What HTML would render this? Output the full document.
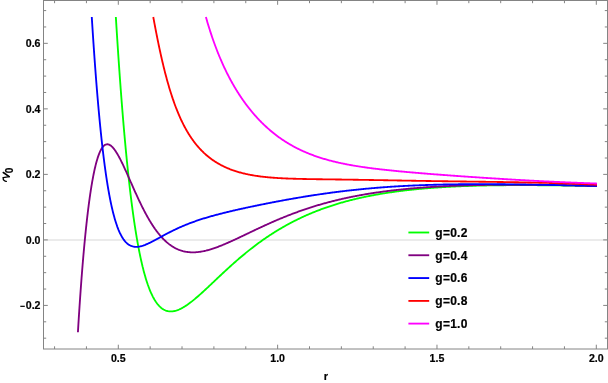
<!DOCTYPE html>
<html><head><meta charset="utf-8"><style>
html,body{margin:0;padding:0;background:#fff;}
svg{display:block;will-change:transform;font-family:"Liberation Sans",sans-serif;font-weight:bold;font-size:10.6px;fill:#000;}
text{stroke:#000;stroke-width:0.2px;}
</style></head><body>
<svg width="608" height="383" viewBox="0 0 608 383">
<rect width="608" height="383" fill="#fff"/>
<line x1="43.5" y1="240" x2="607.5" y2="240" stroke="#ebebeb" stroke-width="2"/>
<g>
<path d="M115.84,17.02 L115.90,17.85 L115.95,18.67 L116.00,19.50 L116.05,20.32 L116.10,21.14 L116.15,21.96 L116.20,22.77 L116.25,23.59 L116.30,24.41 L116.35,25.22 L116.40,26.03 L116.45,26.84 L116.51,27.65 L116.56,28.45 L116.61,29.26 L116.66,30.06 L116.71,30.86 L116.76,31.66 L116.81,32.46 L116.86,33.30 L116.92,34.13 L116.97,34.96 L117.02,35.79 L117.08,36.62 L117.13,37.44 L117.18,38.27 L117.24,39.09 L117.29,39.91 L117.34,40.73 L117.40,41.55 L117.45,42.37 L117.50,43.18 L117.56,43.99 L117.61,44.80 L117.66,45.61 L117.72,46.42 L117.77,47.22 L117.82,48.03 L117.88,48.83 L117.93,49.63 L117.98,50.43 L118.04,51.26 L118.09,52.09 L118.15,52.92 L118.20,53.75 L118.26,54.57 L118.32,55.40 L118.37,56.22 L118.43,57.04 L118.48,57.86 L118.54,58.67 L118.59,59.49 L118.65,60.30 L118.71,61.11 L118.76,61.92 L118.82,62.72 L118.87,63.53 L118.93,64.33 L118.98,65.13 L119.04,65.93 L119.10,66.76 L119.16,67.59 L119.21,68.42 L119.27,69.25 L119.33,70.07 L119.39,70.89 L119.45,71.71 L119.50,72.53 L119.56,73.35 L119.62,74.16 L119.68,74.97 L119.74,75.78 L119.80,76.59 L119.85,77.40 L119.91,78.20 L119.97,79.00 L120.03,79.80 L120.09,80.63 L120.15,81.46 L120.21,82.29 L120.27,83.11 L120.33,83.93 L120.39,84.75 L120.45,85.57 L120.51,86.39 L120.57,87.20 L120.63,88.01 L120.69,88.82 L120.75,89.63 L120.81,90.43 L120.88,91.24 L120.94,92.04 L121.00,92.84 L121.06,93.66 L121.12,94.49 L121.18,95.31 L121.25,96.14 L121.31,96.95 L121.37,97.77 L121.44,98.59 L121.50,99.40 L121.56,100.21 L121.63,101.02 L121.69,101.82 L121.75,102.62 L121.81,103.43 L121.88,104.22 L121.94,105.05 L122.01,105.88 L122.07,106.70 L122.14,107.52 L122.20,108.33 L122.27,109.15 L122.33,109.96 L122.40,110.77 L122.47,111.58 L122.53,112.38 L122.60,113.19 L122.66,113.99 L122.73,114.79 L122.79,115.61 L122.86,116.43 L122.93,117.25 L123.00,118.07 L123.07,118.89 L123.13,119.70 L123.20,120.51 L123.27,121.31 L123.34,122.12 L123.40,122.92 L123.47,123.72 L123.54,124.55 L123.61,125.37 L123.68,126.19 L123.75,127.01 L123.82,127.82 L123.89,128.63 L123.96,129.44 L124.03,130.25 L124.10,131.05 L124.17,131.85 L124.25,132.65 L124.32,133.48 L124.39,134.30 L124.46,135.11 L124.54,135.93 L124.61,136.74 L124.68,137.55 L124.75,138.36 L124.83,139.16 L124.90,139.96 L124.97,140.76 L125.05,141.58 L125.12,142.40 L125.20,143.21 L125.27,144.03 L125.35,144.84 L125.42,145.64 L125.50,146.45 L125.57,147.25 L125.65,148.05 L125.72,148.87 L125.80,149.69 L125.88,150.50 L125.96,151.31 L126.03,152.12 L126.11,152.93 L126.19,153.73 L126.27,154.53 L126.34,155.33 L126.42,156.14 L126.50,156.96 L126.58,157.77 L126.66,158.58 L126.74,159.38 L126.82,160.19 L126.90,160.98 L126.99,161.80 L127.07,162.62 L127.15,163.43 L127.23,164.24 L127.31,165.05 L127.40,165.85 L127.48,166.65 L127.56,167.45 L127.65,168.27 L127.73,169.08 L127.82,169.89 L127.90,170.69 L127.99,171.50 L128.07,172.30 L128.15,173.09 L128.24,173.91 L128.33,174.72 L128.42,175.53 L128.50,176.33 L128.59,177.13 L128.68,177.93 L128.77,178.74 L128.86,179.55 L128.95,180.36 L129.04,181.17 L129.13,181.97 L129.22,182.76 L129.31,183.58 L129.40,184.39 L129.49,185.20 L129.58,186.00 L129.68,186.80 L129.77,187.59 L129.86,188.40 L129.96,189.21 L130.05,190.02 L130.14,190.82 L130.24,191.61 L130.34,192.43 L130.43,193.23 L130.53,194.04 L130.63,194.84 L130.72,195.64 L130.82,196.45 L130.92,197.26 L131.02,198.06 L131.12,198.86 L131.22,199.65 L131.32,200.46 L131.42,201.27 L131.52,202.07 L131.63,202.87 L131.73,203.68 L131.83,204.48 L131.94,205.29 L132.04,206.08 L132.15,206.89 L132.26,207.70 L132.36,208.50 L132.47,209.30 L132.58,210.09 L132.68,210.90 L132.79,211.70 L132.90,212.50 L133.01,213.31 L133.13,214.11 L133.24,214.91 L133.35,215.71 L133.46,216.51 L133.58,217.32 L133.69,218.11 L133.81,218.92 L133.92,219.72 L134.04,220.52 L134.15,221.32 L134.27,222.12 L134.39,222.92 L134.51,223.71 L134.63,224.52 L134.75,225.32 L134.87,226.11 L135.00,226.91 L135.12,227.71 L135.24,228.50 L135.37,229.31 L135.50,230.10 L135.62,230.89 L135.75,231.69 L135.88,232.49 L136.01,233.29 L136.14,234.09 L136.27,234.88 L136.40,235.68 L136.54,236.47 L136.67,237.28 L136.81,238.07 L136.94,238.86 L137.08,239.66 L137.22,240.45 L137.36,241.25 L137.50,242.04 L137.64,242.84 L137.79,243.63 L137.93,244.42 L138.08,245.22 L138.22,246.01 L138.37,246.80 L138.52,247.60 L138.67,248.39 L138.82,249.18 L138.98,249.97 L139.13,250.76 L139.29,251.55 L139.44,252.34 L139.60,253.13 L139.76,253.92 L139.93,254.71 L140.09,255.50 L140.25,256.29 L140.42,257.08 L140.59,257.87 L140.76,258.66 L140.93,259.44 L141.11,260.23 L141.28,261.01 L141.46,261.80 L141.64,262.58 L141.82,263.37 L142.00,264.15 L142.19,264.94 L142.38,265.72 L142.56,266.50 L142.76,267.28 L142.95,268.06 L143.15,268.84 L143.34,269.62 L143.54,270.40 L143.75,271.18 L143.95,271.96 L144.16,272.73 L144.37,273.50 L144.59,274.28 L144.81,275.06 L145.03,275.83 L145.25,276.61 L145.48,277.38 L145.71,278.15 L145.94,278.92 L146.18,279.69 L146.42,280.46 L146.66,281.22 L146.91,281.99 L147.16,282.75 L147.42,283.51 L147.67,284.27 L147.94,285.03 L148.21,285.78 L148.48,286.54 L148.76,287.29 L149.04,288.04 L149.33,288.79 L149.63,289.54 L149.93,290.28 L150.24,291.03 L150.55,291.77 L150.87,292.50 L151.19,293.24 L151.53,293.97 L151.87,294.69 L152.22,295.41 L152.58,296.13 L152.94,296.85 L153.32,297.56 L153.70,298.26 L154.10,298.96 L154.50,299.65 L154.92,300.33 L155.35,301.01 L155.79,301.68 L156.25,302.34 L156.71,302.99 L157.19,303.63 L157.69,304.26 L158.21,304.87 L158.74,305.47 L159.29,306.06 L159.85,306.63 L160.44,307.17 L161.04,307.70 L161.67,308.20 L162.32,308.67 L162.98,309.11 L163.67,309.52 L164.38,309.90 L165.11,310.24 L165.85,310.54 L166.61,310.80 L167.38,311.01 L168.17,311.18 L168.96,311.30 L169.75,311.38 L170.56,311.41 L171.36,311.41 L172.16,311.36 L172.95,311.27 L173.74,311.15 L174.53,311.00 L175.31,310.81 L176.08,310.60 L176.85,310.36 L177.60,310.09 L178.35,309.81 L179.09,309.50 L179.82,309.17 L180.55,308.83 L181.26,308.47 L181.97,308.10 L182.67,307.72 L183.37,307.32 L184.06,306.91 L184.74,306.49 L185.42,306.06 L186.09,305.62 L186.76,305.17 L187.42,304.72 L188.07,304.26 L188.72,303.79 L189.37,303.32 L190.01,302.84 L190.65,302.36 L191.29,301.87 L191.92,301.37 L192.54,300.87 L193.17,300.37 L193.79,299.87 L194.41,299.36 L195.03,298.84 L195.64,298.33 L196.25,297.81 L196.86,297.29 L197.46,296.77 L198.07,296.24 L198.67,295.71 L199.27,295.18 L199.87,294.65 L200.47,294.11 L201.06,293.58 L201.66,293.04 L202.25,292.50 L202.85,291.96 L203.44,291.42 L204.03,290.87 L204.62,290.33 L205.20,289.79 L205.79,289.24 L206.38,288.69 L206.96,288.15 L207.55,287.60 L208.13,287.05 L208.72,286.50 L209.30,285.95 L209.88,285.40 L210.47,284.85 L211.05,284.30 L211.63,283.75 L212.21,283.20 L212.80,282.65 L213.38,282.10 L213.96,281.55 L214.54,281.00 L215.12,280.45 L215.70,279.90 L216.28,279.35 L216.87,278.79 L217.45,278.24 L218.03,277.69 L218.62,277.14 L219.20,276.59 L219.78,276.04 L220.37,275.49 L220.95,274.95 L221.54,274.40 L222.12,273.85 L222.71,273.30 L223.29,272.75 L223.88,272.21 L224.47,271.66 L225.06,271.12 L225.64,270.57 L226.23,270.03 L226.82,269.49 L227.41,268.95 L228.00,268.41 L228.60,267.86 L229.19,267.33 L229.78,266.79 L230.38,266.25 L230.97,265.71 L231.57,265.18 L232.17,264.64 L232.77,264.11 L233.36,263.57 L233.96,263.04 L234.57,262.51 L235.17,261.98 L235.77,261.45 L236.37,260.92 L236.98,260.40 L237.58,259.87 L238.19,259.35 L238.80,258.82 L239.41,258.30 L240.02,257.78 L240.63,257.27 L241.24,256.75 L241.85,256.23 L242.47,255.72 L243.08,255.20 L243.70,254.69 L244.32,254.18 L244.94,253.67 L245.56,253.16 L246.18,252.65 L246.80,252.15 L247.43,251.64 L248.05,251.14 L248.68,250.64 L249.30,250.14 L249.93,249.64 L250.56,249.15 L251.19,248.65 L251.83,248.16 L252.46,247.67 L253.09,247.18 L253.73,246.69 L254.37,246.21 L255.01,245.72 L255.65,245.24 L256.29,244.76 L256.93,244.28 L257.57,243.81 L258.22,243.33 L258.87,242.86 L259.52,242.38 L260.16,241.91 L260.82,241.45 L261.47,240.98 L262.12,240.52 L262.77,240.05 L263.43,239.59 L264.09,239.13 L264.75,238.68 L265.41,238.22 L266.07,237.77 L266.73,237.32 L267.40,236.87 L268.06,236.42 L268.73,235.98 L269.40,235.54 L270.07,235.10 L270.74,234.66 L271.41,234.22 L272.08,233.79 L272.76,233.35 L273.43,232.92 L274.11,232.49 L274.79,232.07 L275.47,231.64 L276.15,231.22 L276.83,230.80 L277.52,230.39 L278.20,229.97 L278.89,229.56 L279.58,229.15 L280.27,228.74 L280.96,228.33 L281.65,227.93 L282.34,227.52 L283.04,227.12 L283.73,226.73 L284.43,226.33 L285.13,225.94 L285.83,225.55 L286.53,225.16 L287.23,224.77 L287.93,224.39 L288.63,224.01 L289.34,223.63 L290.05,223.25 L290.76,222.87 L291.47,222.50 L292.18,222.13 L292.89,221.76 L293.60,221.40 L294.32,221.03 L295.03,220.67 L295.75,220.31 L296.46,219.96 L297.18,219.60 L297.90,219.25 L298.62,218.90 L299.34,218.56 L300.07,218.21 L300.79,217.87 L301.52,217.53 L302.25,217.19 L302.97,216.85 L303.70,216.52 L304.43,216.19 L305.16,215.86 L305.89,215.53 L306.63,215.21 L307.36,214.89 L308.10,214.57 L308.83,214.25 L309.57,213.94 L310.31,213.62 L311.05,213.31 L311.79,213.00 L312.53,212.70 L313.27,212.40 L314.01,212.09 L314.75,211.80 L315.50,211.50 L316.24,211.20 L316.99,210.91 L317.74,210.62 L318.48,210.34 L319.23,210.05 L319.98,209.77 L320.73,209.49 L321.48,209.21 L322.24,208.93 L322.99,208.66 L323.74,208.39 L324.50,208.12 L325.25,207.85 L326.01,207.59 L326.77,207.32 L327.52,207.06 L328.28,206.80 L329.04,206.55 L329.80,206.29 L330.56,206.04 L331.32,205.79 L332.09,205.54 L332.85,205.30 L333.61,205.05 L334.38,204.81 L335.14,204.57 L335.91,204.34 L336.67,204.10 L337.44,203.87 L338.21,203.64 L338.97,203.41 L339.74,203.18 L340.51,202.96 L341.28,202.73 L342.05,202.51 L342.82,202.30 L343.59,202.08 L344.36,201.86 L345.14,201.65 L345.91,201.44 L346.68,201.23 L347.46,201.02 L348.23,200.82 L349.01,200.62 L349.78,200.42 L350.56,200.22 L351.34,200.02 L352.11,199.82 L352.89,199.63 L353.67,199.44 L354.45,199.25 L355.23,199.06 L356.01,198.87 L356.79,198.69 L357.57,198.51 L358.35,198.33 L359.13,198.15 L359.91,197.97 L360.69,197.80 L361.47,197.62 L362.26,197.45 L363.04,197.28 L363.82,197.11 L364.61,196.95 L365.39,196.78 L366.17,196.62 L366.96,196.46 L367.74,196.30 L368.53,196.14 L369.31,195.98 L370.10,195.83 L370.89,195.67 L371.68,195.52 L372.46,195.37 L373.25,195.22 L374.04,195.08 L374.82,194.93 L375.61,194.79 L376.40,194.64 L377.19,194.50 L377.98,194.36 L378.77,194.23 L379.56,194.09 L380.35,193.95 L381.14,193.82 L381.93,193.69 L382.72,193.56 L383.51,193.43 L384.30,193.30 L385.09,193.18 L385.88,193.05 L386.68,192.93 L387.47,192.81 L388.26,192.69 L389.05,192.57 L389.84,192.45 L390.63,192.33 L391.43,192.22 L392.22,192.10 L393.02,191.99 L393.81,191.88 L394.60,191.77 L395.40,191.66 L396.19,191.55 L396.99,191.45 L397.78,191.34 L398.57,191.24 L399.37,191.14 L400.16,191.03 L400.96,190.93 L401.75,190.84 L402.54,190.74 L403.34,190.64 L404.14,190.55 L404.93,190.45 L405.73,190.36 L406.53,190.27 L407.32,190.18 L408.12,190.09 L408.92,190.00 L409.71,189.91 L410.51,189.82 L411.31,189.74 L412.10,189.66 L412.90,189.57 L413.70,189.49 L414.49,189.41 L415.29,189.33 L416.09,189.25 L416.88,189.17 L417.68,189.10 L418.47,189.02 L419.27,188.95 L420.07,188.87 L420.87,188.80 L421.67,188.73 L422.47,188.66 L423.27,188.59 L424.07,188.52 L424.87,188.45 L425.66,188.38 L426.46,188.32 L427.26,188.25 L428.06,188.19 L428.86,188.12 L429.66,188.06 L430.46,188.00 L431.26,187.94 L432.06,187.88 L432.86,187.82 L433.65,187.76 L434.45,187.70 L435.25,187.65 L436.05,187.59 L436.85,187.54 L437.65,187.48 L438.45,187.43 L439.25,187.38 L440.05,187.32 L440.84,187.27 L441.64,187.22 L442.44,187.17 L443.24,187.13 L444.04,187.08 L444.84,187.03 L445.64,186.98 L446.44,186.94 L447.24,186.89 L448.03,186.85 L448.83,186.81 L449.63,186.76 L450.43,186.72 L451.23,186.68 L452.03,186.64 L452.84,186.60 L453.64,186.56 L454.44,186.52 L455.24,186.48 L456.04,186.45 L456.84,186.41 L457.64,186.37 L458.44,186.34 L459.25,186.30 L460.05,186.27 L460.85,186.23 L461.65,186.20 L462.45,186.17 L463.25,186.14 L464.05,186.11 L464.86,186.08 L465.66,186.05 L466.46,186.02 L467.26,185.99 L468.06,185.96 L468.86,185.93 L469.66,185.91 L470.46,185.88 L471.27,185.85 L472.07,185.83 L472.87,185.80 L473.67,185.78 L474.47,185.75 L475.27,185.73 L476.07,185.71 L476.88,185.69 L477.68,185.66 L478.48,185.64 L479.28,185.62 L480.08,185.60 L480.88,185.58 L481.68,185.56 L482.48,185.55 L483.29,185.53 L484.09,185.51 L484.89,185.49 L485.69,185.48 L486.49,185.46 L487.29,185.44 L488.09,185.43 L488.90,185.41 L489.70,185.40 L490.50,185.38 L491.30,185.37 L492.10,185.36 L492.90,185.34 L493.70,185.33 L494.50,185.32 L495.31,185.31 L496.11,185.30 L496.91,185.29 L497.71,185.28 L498.51,185.27 L499.31,185.26 L500.11,185.25 L500.92,185.24 L501.72,185.23 L502.52,185.22 L503.32,185.22 L504.12,185.21 L504.92,185.20 L505.72,185.20 L506.52,185.19 L507.33,185.18 L508.13,185.18 L508.93,185.17 L509.73,185.17 L510.53,185.16 L511.33,185.16 L512.13,185.16 L512.94,185.15 L513.74,185.15 L514.54,185.15 L515.34,185.15 L516.14,185.14 L516.94,185.14 L517.74,185.14 L518.54,185.14 L519.35,185.14 L520.15,185.14 L520.95,185.14 L521.75,185.14 L522.55,185.14 L523.35,185.14 L524.15,185.14 L524.96,185.14 L525.76,185.14 L526.56,185.15 L527.36,185.15 L528.16,185.15 L528.96,185.15 L529.76,185.16 L530.56,185.16 L531.37,185.16 L532.17,185.17 L532.97,185.17 L533.77,185.18 L534.57,185.18 L535.37,185.19 L536.17,185.19 L536.98,185.20 L537.78,185.20 L538.58,185.21 L539.38,185.22 L540.18,185.22 L540.98,185.23 L541.78,185.24 L542.58,185.24 L543.39,185.25 L544.19,185.26 L544.99,185.27 L545.79,185.27 L546.59,185.28 L547.39,185.29 L548.19,185.30 L549.00,185.31 L549.80,185.32 L550.60,185.33 L551.40,185.34 L552.20,185.35 L553.00,185.36 L553.80,185.37 L554.60,185.38 L555.41,185.39 L556.21,185.40 L557.01,185.41 L557.81,185.42 L558.61,185.43 L559.41,185.44 L560.21,185.45 L561.02,185.47 L561.82,185.48 L562.62,185.49 L563.42,185.50 L564.22,185.52 L565.02,185.53 L565.82,185.54 L566.62,185.56 L567.43,185.57 L568.23,185.58 L569.03,185.60 L569.83,185.61 L570.63,185.62 L571.43,185.64 L572.23,185.65 L573.04,185.67 L573.84,185.68 L574.64,185.70 L575.44,185.71 L576.24,185.73 L577.04,185.74 L577.84,185.76 L578.64,185.77 L579.45,185.79 L580.25,185.81 L581.05,185.82 L581.85,185.84 L582.65,185.85 L583.45,185.87 L584.25,185.89 L585.06,185.90 L585.86,185.92 L586.66,185.94 L587.46,185.96 L588.26,185.97 L589.06,185.99 L589.86,186.01 L590.66,186.03 L591.47,186.04 L592.27,186.06 L593.07,186.08 L593.87,186.10 L594.67,186.12 L595.47,186.13 L596.27,186.15 L597.00,186.17" stroke="#00ff00" stroke-width="1.85" fill="none" stroke-linejoin="round" stroke-linecap="butt"/>
<path d="M77.92,332.29 L77.97,331.45 L78.02,330.61 L78.07,329.78 L78.12,328.95 L78.17,328.12 L78.22,327.30 L78.26,326.47 L78.31,325.66 L78.36,324.84 L78.41,324.03 L78.46,323.22 L78.51,322.41 L78.56,321.61 L78.61,320.81 L78.66,319.97 L78.72,319.13 L78.77,318.30 L78.82,317.47 L78.87,316.64 L78.93,315.82 L78.98,315.00 L79.03,314.18 L79.08,313.37 L79.13,312.56 L79.19,311.75 L79.24,310.94 L79.29,310.14 L79.34,309.34 L79.40,308.51 L79.45,307.67 L79.51,306.85 L79.56,306.02 L79.62,305.20 L79.67,304.38 L79.73,303.56 L79.78,302.75 L79.84,301.94 L79.89,301.13 L79.95,300.33 L80.00,299.53 L80.06,298.70 L80.12,297.86 L80.17,297.04 L80.23,296.21 L80.29,295.39 L80.35,294.57 L80.40,293.76 L80.46,292.95 L80.52,292.14 L80.58,291.34 L80.63,290.53 L80.69,289.74 L80.75,288.91 L80.81,288.08 L80.87,287.25 L80.93,286.43 L80.99,285.62 L81.05,284.80 L81.11,283.99 L81.17,283.19 L81.23,282.38 L81.29,281.58 L81.35,280.75 L81.42,279.93 L81.48,279.10 L81.54,278.28 L81.60,277.47 L81.67,276.65 L81.73,275.85 L81.79,275.04 L81.86,274.24 L81.92,273.44 L81.98,272.61 L82.05,271.79 L82.11,270.97 L82.18,270.15 L82.24,269.34 L82.31,268.53 L82.38,267.72 L82.44,266.92 L82.51,266.12 L82.57,265.30 L82.64,264.47 L82.71,263.66 L82.78,262.84 L82.85,262.03 L82.91,261.22 L82.98,260.42 L83.05,259.62 L83.12,258.80 L83.19,257.98 L83.26,257.16 L83.33,256.35 L83.40,255.54 L83.47,254.73 L83.54,253.93 L83.61,253.13 L83.69,252.31 L83.76,251.49 L83.83,250.68 L83.91,249.87 L83.98,249.06 L84.05,248.26 L84.12,247.46 L84.20,246.64 L84.28,245.82 L84.35,245.01 L84.43,244.20 L84.50,243.40 L84.58,242.60 L84.66,241.78 L84.74,240.96 L84.81,240.15 L84.89,239.34 L84.97,238.53 L85.05,237.73 L85.13,236.91 L85.21,236.10 L85.29,235.28 L85.37,234.48 L85.45,233.67 L85.54,232.88 L85.62,232.06 L85.70,231.24 L85.79,230.44 L85.87,229.63 L85.95,228.83 L86.04,228.02 L86.13,227.20 L86.21,226.39 L86.30,225.59 L86.38,224.79 L86.47,223.98 L86.56,223.17 L86.65,222.36 L86.74,221.56 L86.83,220.76 L86.92,219.95 L87.01,219.14 L87.10,218.34 L87.19,217.55 L87.29,216.73 L87.38,215.93 L87.48,215.12 L87.57,214.33 L87.67,213.52 L87.76,212.71 L87.86,211.91 L87.96,211.09 L88.06,210.29 L88.16,209.48 L88.26,208.69 L88.36,207.88 L88.46,207.07 L88.56,206.27 L88.67,205.46 L88.77,204.66 L88.88,203.86 L88.98,203.05 L89.09,202.24 L89.20,201.44 L89.31,200.63 L89.42,199.83 L89.53,199.04 L89.64,198.23 L89.75,197.43 L89.86,196.62 L89.98,195.82 L90.09,195.02 L90.21,194.22 L90.33,193.42 L90.45,192.62 L90.57,191.82 L90.69,191.01 L90.82,190.21 L90.94,189.41 L91.07,188.61 L91.19,187.80 L91.32,187.01 L91.45,186.20 L91.58,185.41 L91.72,184.61 L91.85,183.82 L91.99,183.02 L92.12,182.22 L92.26,181.43 L92.40,180.63 L92.55,179.84 L92.69,179.05 L92.84,178.25 L92.99,177.46 L93.14,176.66 L93.29,175.86 L93.45,175.08 L93.60,174.29 L93.76,173.50 L93.92,172.71 L94.09,171.93 L94.25,171.14 L94.42,170.35 L94.60,169.57 L94.77,168.78 L94.95,167.99 L95.14,167.21 L95.32,166.43 L95.51,165.65 L95.71,164.87 L95.91,164.09 L96.11,163.30 L96.32,162.53 L96.53,161.76 L96.74,160.98 L96.97,160.21 L97.20,159.44 L97.43,158.67 L97.67,157.90 L97.92,157.13 L98.18,156.37 L98.44,155.61 L98.72,154.86 L99.00,154.10 L99.30,153.36 L99.61,152.61 L99.93,151.88 L100.26,151.15 L100.62,150.42 L100.99,149.71 L101.38,149.01 L101.80,148.33 L102.24,147.66 L102.72,147.02 L103.24,146.40 L103.80,145.83 L104.41,145.31 L105.08,144.87 L105.81,144.53 L106.58,144.33 L107.38,144.27 L108.18,144.37 L108.94,144.60 L109.67,144.93 L110.36,145.35 L111.01,145.82 L111.62,146.34 L112.20,146.89 L112.75,147.47 L113.28,148.07 L113.79,148.69 L114.29,149.32 L114.77,149.97 L115.23,150.62 L115.68,151.29 L116.12,151.96 L116.55,152.64 L116.97,153.32 L117.38,154.01 L117.79,154.70 L118.18,155.39 L118.58,156.09 L118.96,156.80 L119.34,157.51 L119.72,158.21 L120.09,158.92 L120.46,159.64 L120.82,160.35 L121.18,161.07 L121.54,161.79 L121.89,162.52 L122.24,163.24 L122.59,163.96 L122.94,164.68 L123.28,165.41 L123.62,166.14 L123.96,166.86 L124.30,167.59 L124.64,168.32 L124.97,169.05 L125.30,169.78 L125.64,170.51 L125.97,171.24 L126.30,171.97 L126.63,172.71 L126.96,173.44 L127.28,174.17 L127.61,174.91 L127.93,175.64 L128.26,176.38 L128.58,177.11 L128.91,177.84 L129.23,178.58 L129.56,179.31 L129.88,180.05 L130.20,180.78 L130.53,181.52 L130.85,182.25 L131.18,182.99 L131.50,183.72 L131.82,184.45 L132.15,185.19 L132.47,185.92 L132.80,186.66 L133.12,187.39 L133.45,188.12 L133.78,188.86 L134.10,189.59 L134.43,190.32 L134.76,191.06 L135.09,191.79 L135.42,192.52 L135.75,193.25 L136.08,193.98 L136.42,194.72 L136.75,195.45 L137.09,196.17 L137.42,196.90 L137.76,197.63 L138.10,198.36 L138.44,199.09 L138.78,199.81 L139.12,200.54 L139.47,201.26 L139.82,201.99 L140.16,202.71 L140.51,203.44 L140.86,204.16 L141.22,204.88 L141.57,205.60 L141.93,206.32 L142.29,207.04 L142.65,207.75 L143.01,208.47 L143.38,209.19 L143.74,209.90 L144.11,210.62 L144.48,211.33 L144.86,212.03 L145.23,212.74 L145.61,213.45 L145.99,214.16 L146.38,214.86 L146.76,215.56 L147.15,216.26 L147.54,216.96 L147.94,217.66 L148.34,218.36 L148.74,219.05 L149.15,219.74 L149.56,220.43 L149.97,221.12 L150.39,221.81 L150.81,222.49 L151.23,223.17 L151.66,223.85 L152.09,224.53 L152.52,225.20 L152.96,225.87 L153.41,226.54 L153.86,227.21 L154.31,227.87 L154.76,228.53 L155.23,229.18 L155.69,229.83 L156.17,230.48 L156.64,231.13 L157.13,231.77 L157.62,232.40 L158.11,233.04 L158.61,233.66 L159.12,234.28 L159.63,234.90 L160.14,235.51 L160.67,236.12 L161.20,236.72 L161.74,237.32 L162.28,237.91 L162.83,238.49 L163.39,239.07 L163.95,239.63 L164.53,240.19 L165.11,240.75 L165.69,241.29 L166.29,241.83 L166.89,242.36 L167.50,242.88 L168.12,243.39 L168.75,243.89 L169.38,244.38 L170.03,244.85 L170.68,245.32 L171.34,245.78 L172.01,246.22 L172.68,246.65 L173.37,247.07 L174.06,247.47 L174.76,247.86 L175.47,248.23 L176.18,248.59 L176.91,248.94 L177.64,249.27 L178.37,249.58 L179.12,249.88 L179.87,250.16 L180.63,250.42 L181.39,250.67 L182.16,250.90 L182.93,251.12 L183.71,251.31 L184.49,251.49 L185.27,251.65 L186.06,251.80 L186.85,251.92 L187.65,252.03 L188.44,252.13 L189.24,252.20 L190.04,252.26 L190.84,252.31 L191.64,252.34 L192.44,252.35 L193.24,252.35 L194.05,252.33 L194.85,252.30 L195.65,252.26 L196.45,252.20 L197.24,252.13 L198.04,252.05 L198.84,251.95 L199.63,251.85 L200.43,251.73 L201.22,251.60 L202.01,251.46 L202.79,251.31 L203.58,251.16 L204.36,250.99 L205.14,250.81 L205.93,250.63 L206.70,250.43 L207.48,250.23 L208.25,250.02 L209.03,249.81 L209.80,249.59 L210.56,249.36 L211.33,249.12 L212.09,248.88 L212.86,248.63 L213.62,248.38 L214.38,248.12 L215.13,247.86 L215.89,247.59 L216.64,247.32 L217.39,247.04 L218.14,246.76 L218.89,246.47 L219.64,246.18 L220.39,245.89 L221.13,245.59 L221.88,245.29 L222.62,244.99 L223.36,244.68 L224.10,244.37 L224.84,244.06 L225.57,243.75 L226.31,243.43 L227.05,243.11 L227.78,242.79 L228.51,242.47 L229.25,242.14 L229.98,241.82 L230.71,241.49 L231.44,241.16 L232.17,240.83 L232.90,240.49 L233.63,240.16 L234.36,239.82 L235.08,239.49 L235.81,239.15 L236.53,238.81 L237.26,238.47 L237.99,238.13 L238.71,237.79 L239.44,237.44 L240.16,237.10 L240.88,236.76 L241.61,236.42 L242.33,236.07 L243.05,235.73 L243.78,235.38 L244.50,235.04 L245.22,234.69 L245.95,234.34 L246.67,234.00 L247.39,233.65 L248.12,233.31 L248.84,232.96 L249.56,232.62 L250.29,232.27 L251.01,231.92 L251.73,231.58 L252.46,231.24 L253.18,230.89 L253.90,230.55 L254.63,230.20 L255.35,229.86 L256.07,229.52 L256.80,229.18 L257.53,228.84 L258.25,228.50 L258.98,228.16 L259.70,227.82 L260.43,227.48 L261.15,227.14 L261.88,226.80 L262.61,226.47 L263.34,226.13 L264.07,225.80 L264.80,225.46 L265.52,225.13 L266.25,224.80 L266.98,224.47 L267.71,224.14 L268.45,223.81 L269.18,223.48 L269.91,223.16 L270.64,222.83 L271.37,222.51 L272.11,222.18 L272.84,221.86 L273.57,221.54 L274.31,221.22 L275.05,220.90 L275.78,220.58 L276.52,220.27 L277.25,219.95 L277.99,219.64 L278.73,219.33 L279.47,219.02 L280.21,218.71 L280.95,218.40 L281.69,218.10 L282.43,217.79 L283.17,217.49 L283.91,217.19 L284.66,216.89 L285.40,216.59 L286.14,216.29 L286.89,215.99 L287.63,215.70 L288.38,215.40 L289.13,215.11 L289.87,214.82 L290.62,214.53 L291.37,214.25 L292.12,213.96 L292.87,213.68 L293.62,213.39 L294.37,213.11 L295.12,212.83 L295.87,212.56 L296.62,212.28 L297.38,212.01 L298.13,211.73 L298.89,211.46 L299.64,211.19 L300.39,210.93 L301.15,210.66 L301.91,210.40 L302.66,210.13 L303.42,209.87 L304.18,209.61 L304.94,209.35 L305.70,209.10 L306.46,208.84 L307.22,208.59 L307.98,208.34 L308.74,208.09 L309.50,207.84 L310.27,207.60 L311.03,207.35 L311.79,207.11 L312.56,206.87 L313.32,206.63 L314.09,206.39 L314.85,206.16 L315.62,205.92 L316.38,205.69 L317.15,205.46 L317.92,205.23 L318.69,205.00 L319.46,204.78 L320.23,204.55 L321.00,204.33 L321.77,204.11 L322.54,203.89 L323.31,203.67 L324.08,203.46 L324.85,203.24 L325.63,203.03 L326.40,202.82 L327.17,202.61 L327.95,202.40 L328.72,202.20 L329.50,201.99 L330.27,201.79 L331.05,201.59 L331.82,201.39 L332.60,201.19 L333.38,200.99 L334.16,200.80 L334.93,200.61 L335.71,200.42 L336.49,200.23 L337.27,200.04 L338.05,199.85 L338.83,199.67 L339.61,199.48 L340.39,199.30 L341.17,199.12 L341.95,198.94 L342.73,198.77 L343.51,198.59 L344.30,198.42 L345.08,198.25 L345.86,198.07 L346.65,197.91 L347.43,197.74 L348.21,197.57 L349.00,197.41 L349.78,197.24 L350.57,197.08 L351.35,196.92 L352.14,196.76 L352.92,196.61 L353.71,196.45 L354.50,196.29 L355.28,196.14 L356.07,195.99 L356.85,195.84 L357.64,195.69 L358.43,195.54 L359.22,195.40 L360.01,195.25 L360.80,195.11 L361.59,194.97 L362.37,194.83 L363.16,194.69 L363.95,194.55 L364.74,194.42 L365.53,194.28 L366.32,194.15 L367.11,194.01 L367.90,193.88 L368.69,193.75 L369.49,193.63 L370.28,193.50 L371.07,193.37 L371.86,193.25 L372.65,193.13 L373.44,193.00 L374.23,192.88 L375.02,192.76 L375.82,192.65 L376.61,192.53 L377.40,192.41 L378.20,192.30 L378.99,192.18 L379.79,192.07 L380.58,191.96 L381.37,191.85 L382.17,191.74 L382.96,191.63 L383.75,191.53 L384.55,191.42 L385.34,191.32 L386.14,191.22 L386.93,191.11 L387.72,191.01 L388.52,190.91 L389.31,190.82 L390.11,190.72 L390.91,190.62 L391.70,190.53 L392.50,190.43 L393.30,190.34 L394.09,190.25 L394.89,190.16 L395.69,190.07 L396.48,189.98 L397.28,189.89 L398.08,189.80 L398.87,189.72 L399.67,189.63 L400.47,189.55 L401.26,189.46 L402.06,189.38 L402.85,189.30 L403.65,189.22 L404.45,189.14 L405.24,189.06 L406.04,188.99 L406.84,188.91 L407.63,188.84 L408.43,188.76 L409.23,188.69 L410.03,188.61 L410.83,188.54 L411.63,188.47 L412.43,188.40 L413.23,188.33 L414.03,188.26 L414.83,188.20 L415.62,188.13 L416.42,188.06 L417.22,188.00 L418.02,187.94 L418.82,187.87 L419.62,187.81 L420.42,187.75 L421.22,187.69 L422.02,187.63 L422.82,187.57 L423.62,187.51 L424.41,187.45 L425.21,187.40 L426.01,187.34 L426.81,187.28 L427.61,187.23 L428.41,187.18 L429.21,187.12 L430.01,187.07 L430.81,187.02 L431.61,186.97 L432.41,186.92 L433.20,186.87 L434.00,186.82 L434.80,186.77 L435.60,186.73 L436.40,186.68 L437.20,186.63 L438.00,186.59 L438.80,186.54 L439.60,186.50 L440.40,186.46 L441.20,186.41 L441.99,186.37 L442.79,186.33 L443.59,186.29 L444.39,186.25 L445.19,186.21 L445.99,186.17 L446.79,186.13 L447.59,186.10 L448.39,186.06 L449.19,186.02 L450.00,185.99 L450.80,185.95 L451.60,185.92 L452.40,185.88 L453.20,185.85 L454.01,185.82 L454.81,185.79 L455.61,185.75 L456.41,185.72 L457.21,185.69 L458.01,185.66 L458.82,185.63 L459.62,185.60 L460.42,185.58 L461.22,185.55 L462.02,185.52 L462.82,185.50 L463.63,185.47 L464.43,185.44 L465.23,185.42 L466.03,185.39 L466.83,185.37 L467.63,185.35 L468.44,185.32 L469.24,185.30 L470.04,185.28 L470.84,185.26 L471.64,185.24 L472.44,185.22 L473.25,185.20 L474.05,185.18 L474.85,185.16 L475.65,185.14 L476.45,185.12 L477.25,185.10 L478.06,185.08 L478.86,185.07 L479.66,185.05 L480.46,185.03 L481.26,185.02 L482.07,185.00 L482.87,184.99 L483.67,184.98 L484.47,184.96 L485.27,184.95 L486.07,184.93 L486.88,184.92 L487.68,184.91 L488.48,184.90 L489.28,184.89 L490.08,184.88 L490.88,184.87 L491.69,184.86 L492.49,184.85 L493.29,184.84 L494.09,184.83 L494.89,184.82 L495.69,184.81 L496.50,184.80 L497.30,184.79 L498.10,184.79 L498.90,184.78 L499.70,184.77 L500.50,184.77 L501.31,184.76 L502.11,184.76 L502.91,184.75 L503.71,184.75 L504.51,184.74 L505.31,184.74 L506.12,184.74 L506.92,184.73 L507.72,184.73 L508.52,184.73 L509.32,184.73 L510.13,184.72 L510.93,184.72 L511.73,184.72 L512.53,184.72 L513.33,184.72 L514.13,184.72 L514.94,184.72 L515.74,184.72 L516.54,184.72 L517.34,184.72 L518.14,184.72 L518.94,184.72 L519.75,184.73 L520.55,184.73 L521.35,184.73 L522.15,184.73 L522.95,184.74 L523.75,184.74 L524.56,184.74 L525.36,184.75 L526.16,184.75 L526.96,184.76 L527.76,184.76 L528.56,184.77 L529.37,184.77 L530.17,184.78 L530.97,184.78 L531.77,184.79 L532.57,184.80 L533.37,184.80 L534.18,184.81 L534.98,184.82 L535.78,184.82 L536.58,184.83 L537.38,184.84 L538.19,184.85 L538.99,184.86 L539.79,184.87 L540.59,184.87 L541.39,184.88 L542.19,184.89 L543.00,184.90 L543.80,184.91 L544.60,184.92 L545.40,184.93 L546.20,184.94 L547.00,184.96 L547.81,184.97 L548.61,184.98 L549.41,184.99 L550.21,185.00 L551.01,185.01 L551.81,185.03 L552.62,185.04 L553.42,185.05 L554.22,185.06 L555.02,185.08 L555.82,185.09 L556.62,185.10 L557.43,185.12 L558.23,185.13 L559.03,185.15 L559.83,185.16 L560.63,185.18 L561.43,185.19 L562.24,185.21 L563.04,185.22 L563.84,185.24 L564.64,185.25 L565.44,185.27 L566.24,185.28 L567.05,185.30 L567.85,185.32 L568.65,185.33 L569.45,185.35 L570.25,185.37 L571.06,185.38 L571.86,185.40 L572.66,185.42 L573.46,185.44 L574.26,185.45 L575.06,185.47 L575.87,185.49 L576.67,185.51 L577.47,185.53 L578.27,185.55 L579.07,185.57 L579.87,185.59 L580.68,185.61 L581.48,185.62 L582.28,185.64 L583.08,185.66 L583.88,185.68 L584.68,185.70 L585.49,185.73 L586.29,185.75 L587.09,185.77 L587.89,185.79 L588.69,185.81 L589.49,185.83 L590.30,185.85 L591.10,185.87 L591.90,185.89 L592.70,185.92 L593.50,185.94 L594.30,185.96 L595.11,185.98 L595.91,186.01 L596.71,186.03 L597.00,186.04" stroke="#800080" stroke-width="1.85" fill="none" stroke-linejoin="round" stroke-linecap="butt"/>
<path d="M91.78,17.00 L91.83,17.82 L91.88,18.64 L91.93,19.45 L91.98,20.27 L92.03,21.08 L92.08,21.89 L92.13,22.69 L92.18,23.50 L92.24,24.30 L92.29,25.10 L92.34,25.94 L92.39,26.77 L92.45,27.60 L92.50,28.44 L92.55,29.26 L92.61,30.09 L92.66,30.91 L92.71,31.74 L92.77,32.56 L92.82,33.37 L92.87,34.19 L92.93,35.00 L92.98,35.81 L93.03,36.62 L93.09,37.43 L93.14,38.23 L93.19,39.03 L93.25,39.83 L93.30,40.67 L93.36,41.50 L93.41,42.33 L93.47,43.16 L93.53,43.98 L93.58,44.81 L93.64,45.63 L93.69,46.45 L93.75,47.26 L93.81,48.08 L93.86,48.89 L93.92,49.70 L93.97,50.50 L94.03,51.31 L94.09,52.11 L94.14,52.91 L94.20,53.74 L94.26,54.57 L94.32,55.40 L94.38,56.22 L94.43,57.04 L94.49,57.86 L94.55,58.68 L94.61,59.50 L94.67,60.31 L94.73,61.12 L94.78,61.92 L94.84,62.73 L94.90,63.53 L94.96,64.33 L95.02,65.16 L95.08,65.99 L95.14,66.82 L95.20,67.64 L95.27,68.46 L95.33,69.28 L95.39,70.09 L95.45,70.90 L95.51,71.71 L95.57,72.52 L95.63,73.32 L95.69,74.12 L95.75,74.92 L95.82,75.75 L95.88,76.58 L95.94,77.40 L96.01,78.22 L96.07,79.04 L96.13,79.85 L96.20,80.66 L96.26,81.47 L96.32,82.27 L96.39,83.08 L96.45,83.88 L96.52,84.71 L96.58,85.53 L96.65,86.35 L96.72,87.17 L96.78,87.99 L96.85,88.80 L96.91,89.61 L96.98,90.42 L97.05,91.22 L97.11,92.02 L97.18,92.82 L97.25,93.65 L97.32,94.47 L97.38,95.29 L97.45,96.10 L97.52,96.91 L97.59,97.72 L97.66,98.53 L97.73,99.33 L97.80,100.13 L97.87,100.96 L97.94,101.78 L98.01,102.60 L98.08,103.41 L98.15,104.22 L98.22,105.03 L98.29,105.84 L98.37,106.64 L98.44,107.44 L98.51,108.26 L98.58,109.08 L98.66,109.90 L98.73,110.71 L98.81,111.52 L98.88,112.32 L98.95,113.12 L99.03,113.92 L99.10,114.74 L99.18,115.56 L99.26,116.38 L99.33,117.19 L99.41,117.99 L99.48,118.80 L99.56,119.60 L99.64,120.42 L99.72,121.24 L99.80,122.05 L99.88,122.86 L99.95,123.67 L100.03,124.47 L100.11,125.27 L100.19,126.09 L100.27,126.91 L100.36,127.72 L100.44,128.53 L100.52,129.33 L100.60,130.13 L100.68,130.95 L100.77,131.77 L100.85,132.58 L100.94,133.39 L101.02,134.19 L101.10,134.99 L101.19,135.81 L101.28,136.62 L101.36,137.43 L101.45,138.24 L101.53,139.04 L101.62,139.84 L101.71,140.65 L101.80,141.46 L101.89,142.27 L101.98,143.07 L102.07,143.87 L102.16,144.68 L102.25,145.49 L102.34,146.30 L102.43,147.10 L102.52,147.89 L102.62,148.71 L102.71,149.52 L102.81,150.32 L102.90,151.12 L103.00,151.93 L103.09,152.74 L103.19,153.55 L103.29,154.35 L103.38,155.14 L103.48,155.95 L103.58,156.75 L103.68,157.55 L103.78,158.35 L103.88,159.16 L103.98,159.96 L104.08,160.76 L104.19,161.57 L104.29,162.38 L104.40,163.18 L104.50,163.97 L104.61,164.78 L104.71,165.58 L104.82,166.38 L104.93,167.19 L105.04,167.99 L105.15,168.79 L105.26,169.60 L105.37,170.40 L105.48,171.20 L105.60,172.01 L105.71,172.81 L105.83,173.61 L105.94,174.42 L106.06,175.22 L106.18,176.01 L106.30,176.82 L106.42,177.62 L106.54,178.41 L106.66,179.21 L106.78,180.00 L106.90,180.81 L107.03,181.60 L107.16,182.41 L107.28,183.21 L107.41,184.00 L107.54,184.80 L107.67,185.59 L107.80,186.39 L107.93,187.18 L108.07,187.98 L108.20,188.77 L108.34,189.57 L108.48,190.36 L108.62,191.15 L108.76,191.94 L108.90,192.74 L109.04,193.53 L109.19,194.33 L109.34,195.12 L109.48,195.91 L109.63,196.70 L109.79,197.49 L109.94,198.28 L110.09,199.07 L110.25,199.86 L110.41,200.66 L110.57,201.45 L110.73,202.24 L110.90,203.03 L111.07,203.82 L111.24,204.61 L111.41,205.40 L111.58,206.18 L111.76,206.97 L111.93,207.75 L112.11,208.53 L112.30,209.32 L112.48,210.10 L112.67,210.88 L112.86,211.66 L113.06,212.44 L113.25,213.23 L113.45,214.01 L113.66,214.79 L113.86,215.56 L114.07,216.34 L114.29,217.12 L114.51,217.90 L114.73,218.67 L114.95,219.45 L115.18,220.22 L115.42,220.99 L115.66,221.76 L115.90,222.53 L116.15,223.29 L116.40,224.05 L116.66,224.81 L116.92,225.57 L117.19,226.33 L117.46,227.08 L117.75,227.83 L118.04,228.59 L118.33,229.33 L118.63,230.07 L118.95,230.81 L119.27,231.55 L119.59,232.28 L119.93,233.01 L120.28,233.73 L120.64,234.45 L121.01,235.16 L121.39,235.87 L121.78,236.57 L122.19,237.26 L122.61,237.94 L123.05,238.62 L123.50,239.28 L123.97,239.93 L124.46,240.56 L124.97,241.18 L125.50,241.79 L126.05,242.37 L126.62,242.93 L127.22,243.47 L127.84,243.97 L128.48,244.45 L129.15,244.89 L129.84,245.29 L130.56,245.65 L131.30,245.97 L132.05,246.23 L132.82,246.45 L133.61,246.63 L134.40,246.75 L135.20,246.83 L136.00,246.86 L136.80,246.85 L137.60,246.80 L138.39,246.71 L139.19,246.59 L139.97,246.44 L140.76,246.26 L141.53,246.06 L142.30,245.84 L143.07,245.60 L143.82,245.34 L144.58,245.06 L145.32,244.78 L146.07,244.47 L146.80,244.16 L147.54,243.84 L148.27,243.51 L148.99,243.17 L149.72,242.82 L150.43,242.47 L151.15,242.11 L151.87,241.75 L152.58,241.39 L153.29,241.02 L154.00,240.64 L154.71,240.27 L155.41,239.89 L156.12,239.51 L156.82,239.13 L157.53,238.75 L158.23,238.36 L158.94,237.98 L159.64,237.59 L160.34,237.21 L161.05,236.83 L161.75,236.44 L162.46,236.06 L163.16,235.68 L163.87,235.30 L164.57,234.92 L165.28,234.54 L165.99,234.17 L166.70,233.79 L167.40,233.42 L168.12,233.05 L168.83,232.68 L169.54,232.31 L170.25,231.95 L170.97,231.59 L171.68,231.23 L172.40,230.87 L173.12,230.52 L173.84,230.17 L174.56,229.82 L175.28,229.47 L176.01,229.13 L176.73,228.79 L177.46,228.45 L178.19,228.11 L178.92,227.78 L179.65,227.45 L180.38,227.13 L181.12,226.81 L181.85,226.49 L182.59,226.17 L183.32,225.86 L184.06,225.55 L184.80,225.24 L185.54,224.93 L186.29,224.63 L187.03,224.33 L187.78,224.04 L188.52,223.75 L189.27,223.46 L190.02,223.17 L190.77,222.89 L191.52,222.61 L192.27,222.33 L193.02,222.06 L193.78,221.78 L194.53,221.52 L195.29,221.25 L196.05,220.99 L196.80,220.73 L197.56,220.47 L198.32,220.21 L199.08,219.96 L199.84,219.71 L200.60,219.46 L201.37,219.21 L202.13,218.97 L202.89,218.73 L203.66,218.49 L204.42,218.26 L205.19,218.02 L205.96,217.79 L206.73,217.56 L207.49,217.33 L208.26,217.10 L209.03,216.88 L209.80,216.66 L210.57,216.44 L211.34,216.22 L212.12,216.00 L212.89,215.79 L213.66,215.57 L214.43,215.36 L215.21,215.15 L215.98,214.95 L216.75,214.74 L217.53,214.53 L218.30,214.33 L219.08,214.13 L219.85,213.93 L220.63,213.73 L221.40,213.53 L222.18,213.33 L222.96,213.14 L223.74,212.94 L224.52,212.75 L225.29,212.56 L226.07,212.37 L226.85,212.18 L227.63,211.99 L228.41,211.80 L229.19,211.61 L229.97,211.43 L230.75,211.24 L231.53,211.06 L232.31,210.88 L233.09,210.69 L233.87,210.51 L234.65,210.33 L235.43,210.15 L236.21,209.97 L236.99,209.80 L237.77,209.62 L238.55,209.44 L239.33,209.27 L240.12,209.09 L240.90,208.92 L241.68,208.74 L242.47,208.57 L243.25,208.40 L244.03,208.23 L244.81,208.06 L245.60,207.89 L246.38,207.72 L247.16,207.55 L247.95,207.38 L248.73,207.21 L249.51,207.05 L250.29,206.88 L251.08,206.71 L251.86,206.55 L252.64,206.38 L253.43,206.22 L254.21,206.06 L255.00,205.89 L255.79,205.73 L256.57,205.57 L257.36,205.40 L258.14,205.24 L258.93,205.08 L259.71,204.92 L260.50,204.76 L261.28,204.60 L262.07,204.44 L262.85,204.29 L263.64,204.13 L264.42,203.97 L265.21,203.81 L265.99,203.66 L266.78,203.50 L267.57,203.35 L268.35,203.19 L269.14,203.04 L269.92,202.89 L270.71,202.73 L271.49,202.58 L272.28,202.43 L273.07,202.28 L273.86,202.12 L274.65,201.97 L275.43,201.82 L276.22,201.67 L277.01,201.52 L277.80,201.38 L278.58,201.23 L279.37,201.08 L280.16,200.93 L280.95,200.79 L281.74,200.64 L282.52,200.49 L283.31,200.35 L284.10,200.21 L284.89,200.06 L285.68,199.92 L286.46,199.78 L287.25,199.63 L288.04,199.49 L288.83,199.35 L289.61,199.21 L290.40,199.07 L291.19,198.93 L291.98,198.79 L292.77,198.65 L293.56,198.52 L294.35,198.38 L295.14,198.24 L295.93,198.11 L296.72,197.97 L297.51,197.84 L298.30,197.70 L299.09,197.57 L299.88,197.43 L300.67,197.30 L301.47,197.17 L302.26,197.04 L303.05,196.91 L303.84,196.78 L304.63,196.65 L305.42,196.52 L306.21,196.39 L307.00,196.27 L307.79,196.14 L308.58,196.01 L309.37,195.89 L310.16,195.76 L310.95,195.64 L311.74,195.52 L312.54,195.39 L313.33,195.27 L314.12,195.15 L314.91,195.03 L315.71,194.91 L316.50,194.79 L317.29,194.67 L318.09,194.55 L318.88,194.43 L319.67,194.32 L320.47,194.20 L321.26,194.09 L322.05,193.97 L322.84,193.86 L323.64,193.74 L324.43,193.63 L325.22,193.52 L326.02,193.41 L326.81,193.30 L327.60,193.19 L328.39,193.08 L329.19,192.97 L329.98,192.86 L330.77,192.76 L331.57,192.65 L332.36,192.54 L333.16,192.44 L333.96,192.34 L334.75,192.23 L335.55,192.13 L336.34,192.03 L337.14,191.93 L337.93,191.83 L338.73,191.73 L339.52,191.63 L340.32,191.53 L341.11,191.43 L341.91,191.33 L342.71,191.24 L343.50,191.14 L344.30,191.05 L345.09,190.95 L345.89,190.86 L346.68,190.77 L347.48,190.68 L348.27,190.59 L349.07,190.50 L349.86,190.41 L350.66,190.32 L351.46,190.23 L352.25,190.14 L353.05,190.06 L353.84,189.97 L354.64,189.88 L355.44,189.80 L356.23,189.72 L357.03,189.63 L357.83,189.55 L358.63,189.47 L359.43,189.39 L360.22,189.31 L361.02,189.23 L361.82,189.15 L362.62,189.07 L363.42,188.99 L364.21,188.92 L365.01,188.84 L365.81,188.77 L366.61,188.69 L367.41,188.62 L368.20,188.55 L369.00,188.47 L369.80,188.40 L370.60,188.33 L371.40,188.26 L372.19,188.19 L372.99,188.12 L373.79,188.06 L374.59,187.99 L375.39,187.92 L376.18,187.86 L376.98,187.79 L377.78,187.73 L378.58,187.66 L379.38,187.60 L380.17,187.54 L380.97,187.48 L381.77,187.41 L382.57,187.35 L383.37,187.29 L384.16,187.24 L384.96,187.18 L385.76,187.12 L386.56,187.06 L387.36,187.01 L388.16,186.95 L388.96,186.90 L389.76,186.84 L390.56,186.79 L391.36,186.73 L392.16,186.68 L392.96,186.63 L393.76,186.58 L394.56,186.53 L395.36,186.48 L396.16,186.43 L396.97,186.38 L397.77,186.33 L398.57,186.28 L399.37,186.24 L400.17,186.19 L400.97,186.15 L401.77,186.10 L402.57,186.06 L403.37,186.01 L404.17,185.97 L404.97,185.93 L405.77,185.89 L406.57,185.84 L407.37,185.80 L408.17,185.76 L408.97,185.72 L409.77,185.69 L410.57,185.65 L411.38,185.61 L412.18,185.57 L412.98,185.54 L413.78,185.50 L414.58,185.46 L415.38,185.43 L416.18,185.39 L416.98,185.36 L417.78,185.33 L418.58,185.30 L419.38,185.26 L420.18,185.23 L420.98,185.20 L421.78,185.17 L422.58,185.14 L423.38,185.11 L424.18,185.08 L424.98,185.05 L425.79,185.03 L426.59,185.00 L427.39,184.97 L428.19,184.95 L428.99,184.92 L429.79,184.89 L430.59,184.87 L431.39,184.85 L432.19,184.82 L432.99,184.80 L433.79,184.78 L434.59,184.75 L435.39,184.73 L436.19,184.71 L436.99,184.69 L437.79,184.67 L438.59,184.65 L439.39,184.63 L440.20,184.61 L441.00,184.59 L441.80,184.57 L442.60,184.56 L443.40,184.54 L444.20,184.52 L445.00,184.50 L445.80,184.49 L446.60,184.47 L447.40,184.46 L448.20,184.44 L449.00,184.43 L449.80,184.42 L450.60,184.40 L451.40,184.39 L452.20,184.38 L453.00,184.36 L453.80,184.35 L454.61,184.34 L455.41,184.33 L456.21,184.32 L457.01,184.31 L457.81,184.30 L458.61,184.29 L459.41,184.28 L460.21,184.27 L461.01,184.26 L461.81,184.26 L462.61,184.25 L463.41,184.24 L464.21,184.23 L465.01,184.23 L465.81,184.22 L466.61,184.22 L467.41,184.21 L468.21,184.21 L469.02,184.20 L469.82,184.20 L470.62,184.19 L471.42,184.19 L472.22,184.19 L473.02,184.18 L473.82,184.18 L474.62,184.18 L475.42,184.17 L476.22,184.17 L477.02,184.17 L477.82,184.17 L478.62,184.17 L479.42,184.17 L480.22,184.17 L481.02,184.17 L481.82,184.17 L482.62,184.17 L483.43,184.17 L484.23,184.17 L485.03,184.17 L485.83,184.17 L486.63,184.18 L487.43,184.18 L488.23,184.18 L489.03,184.18 L489.83,184.19 L490.63,184.19 L491.43,184.19 L492.23,184.20 L493.03,184.20 L493.83,184.20 L494.63,184.21 L495.43,184.21 L496.23,184.22 L497.03,184.22 L497.84,184.23 L498.64,184.23 L499.44,184.24 L500.24,184.25 L501.04,184.25 L501.84,184.26 L502.64,184.27 L503.44,184.27 L504.24,184.28 L505.04,184.29 L505.84,184.30 L506.64,184.30 L507.44,184.31 L508.24,184.32 L509.04,184.33 L509.84,184.34 L510.64,184.34 L511.44,184.35 L512.25,184.36 L513.05,184.37 L513.85,184.38 L514.65,184.39 L515.45,184.40 L516.25,184.41 L517.05,184.42 L517.85,184.43 L518.65,184.44 L519.45,184.45 L520.25,184.46 L521.05,184.47 L521.85,184.48 L522.65,184.50 L523.45,184.51 L524.25,184.52 L525.05,184.53 L525.85,184.54 L526.66,184.55 L527.46,184.57 L528.26,184.58 L529.06,184.59 L529.86,184.60 L530.66,184.62 L531.46,184.63 L532.26,184.64 L533.06,184.65 L533.86,184.67 L534.66,184.68 L535.46,184.69 L536.26,184.71 L537.06,184.72 L537.86,184.74 L538.66,184.75 L539.46,184.76 L540.26,184.78 L541.07,184.79 L541.87,184.81 L542.67,184.82 L543.47,184.83 L544.27,184.85 L545.07,184.86 L545.87,184.88 L546.67,184.89 L547.47,184.91 L548.27,184.92 L549.07,184.94 L549.87,184.95 L550.67,184.97 L551.47,184.98 L552.27,185.00 L553.07,185.01 L553.87,185.03 L554.67,185.04 L555.48,185.06 L556.28,185.07 L557.08,185.09 L557.88,185.11 L558.68,185.12 L559.48,185.14 L560.28,185.15 L561.08,185.17 L561.88,185.19 L562.68,185.20 L563.48,185.22 L564.28,185.23 L565.08,185.25 L565.88,185.27 L566.68,185.28 L567.48,185.30 L568.28,185.31 L569.08,185.33 L569.89,185.35 L570.69,185.36 L571.49,185.38 L572.29,185.40 L573.09,185.41 L573.89,185.43 L574.69,185.45 L575.49,185.46 L576.29,185.48 L577.09,185.50 L577.89,185.51 L578.69,185.53 L579.49,185.55 L580.29,185.56 L581.09,185.58 L581.89,185.60 L582.69,185.61 L583.49,185.63 L584.30,185.65 L585.10,185.66 L585.90,185.68 L586.70,185.70 L587.50,185.71 L588.30,185.73 L589.10,185.75 L589.90,185.76 L590.70,185.78 L591.50,185.80 L592.30,185.81 L593.10,185.83 L593.90,185.85 L594.70,185.86 L595.50,185.88 L596.30,185.90 L597.00,185.91" stroke="#0000ff" stroke-width="1.85" fill="none" stroke-linejoin="round" stroke-linecap="butt"/>
<path d="M153.27,17.00 L153.42,17.80 L153.56,18.58 L153.71,19.37 L153.86,20.17 L154.00,20.96 L154.15,21.76 L154.30,22.55 L154.45,23.33 L154.60,24.13 L154.75,24.92 L154.90,25.72 L155.05,26.51 L155.20,27.29 L155.35,28.09 L155.50,28.88 L155.65,29.67 L155.80,30.46 L155.96,31.25 L156.11,32.05 L156.27,32.84 L156.42,33.62 L156.58,34.42 L156.73,35.21 L156.89,36.00 L157.05,36.79 L157.21,37.58 L157.36,38.37 L157.52,39.16 L157.68,39.95 L157.84,40.74 L158.01,41.53 L158.17,42.32 L158.33,43.11 L158.49,43.90 L158.66,44.68 L158.82,45.47 L158.99,46.26 L159.15,47.04 L159.32,47.83 L159.49,48.62 L159.66,49.40 L159.83,50.19 L160.00,50.98 L160.17,51.77 L160.34,52.55 L160.51,53.34 L160.69,54.13 L160.86,54.91 L161.04,55.70 L161.21,56.49 L161.39,57.27 L161.57,58.05 L161.75,58.84 L161.93,59.62 L162.11,60.41 L162.29,61.19 L162.48,61.98 L162.66,62.76 L162.85,63.55 L163.04,64.33 L163.22,65.12 L163.41,65.90 L163.60,66.69 L163.80,67.47 L163.99,68.25 L164.18,69.04 L164.38,69.82 L164.57,70.60 L164.77,71.38 L164.97,72.16 L165.17,72.93 L165.37,73.71 L165.57,74.49 L165.78,75.27 L165.98,76.05 L166.19,76.82 L166.40,77.60 L166.61,78.38 L166.82,79.15 L167.03,79.93 L167.24,80.70 L167.46,81.48 L167.67,82.25 L167.89,83.02 L168.11,83.80 L168.34,84.57 L168.56,85.34 L168.78,86.12 L169.01,86.89 L169.24,87.66 L169.47,88.43 L169.70,89.20 L169.94,89.97 L170.18,90.74 L170.41,91.51 L170.65,92.27 L170.89,93.04 L171.14,93.80 L171.38,94.57 L171.63,95.33 L171.88,96.10 L172.13,96.86 L172.39,97.63 L172.65,98.39 L172.90,99.15 L173.17,99.91 L173.43,100.67 L173.70,101.43 L173.96,102.19 L174.23,102.95 L174.51,103.70 L174.78,104.46 L175.06,105.21 L175.34,105.96 L175.63,106.72 L175.91,107.47 L176.20,108.22 L176.49,108.96 L176.79,109.71 L177.08,110.46 L177.38,111.20 L177.69,111.95 L177.99,112.69 L178.30,113.43 L178.61,114.17 L178.93,114.91 L179.25,115.65 L179.57,116.38 L179.89,117.11 L180.22,117.85 L180.55,118.58 L180.89,119.31 L181.23,120.04 L181.57,120.76 L181.92,121.49 L182.26,122.21 L182.62,122.93 L182.98,123.64 L183.34,124.36 L183.70,125.08 L184.07,125.79 L184.44,126.50 L184.82,127.21 L185.20,127.92 L185.59,128.62 L185.98,129.32 L186.37,130.02 L186.77,130.71 L187.17,131.41 L187.58,132.09 L187.99,132.78 L188.41,133.47 L188.83,134.15 L189.26,134.83 L189.69,135.51 L190.12,136.18 L190.56,136.85 L191.01,137.51 L191.46,138.18 L191.92,138.84 L192.38,139.49 L192.85,140.15 L193.32,140.80 L193.79,141.44 L194.28,142.08 L194.76,142.72 L195.25,143.35 L195.75,143.98 L196.26,144.61 L196.77,145.23 L197.28,145.84 L197.80,146.45 L198.33,147.06 L198.86,147.66 L199.39,148.25 L199.93,148.84 L200.48,149.43 L201.03,150.01 L201.59,150.58 L202.16,151.15 L202.73,151.72 L203.30,152.27 L203.88,152.83 L204.47,153.37 L205.06,153.91 L205.66,154.45 L206.26,154.98 L206.87,155.50 L207.48,156.02 L208.10,156.53 L208.72,157.03 L209.35,157.53 L209.99,158.02 L210.63,158.50 L211.27,158.98 L211.92,159.45 L212.57,159.91 L213.23,160.37 L213.89,160.82 L214.56,161.26 L215.23,161.70 L215.91,162.13 L216.59,162.55 L217.28,162.97 L217.97,163.38 L218.66,163.78 L219.36,164.17 L220.06,164.56 L220.76,164.94 L221.47,165.31 L222.19,165.68 L222.90,166.04 L223.62,166.39 L224.34,166.74 L225.07,167.08 L225.80,167.41 L226.53,167.74 L227.26,168.06 L228.00,168.37 L228.74,168.67 L229.48,168.97 L230.23,169.27 L230.98,169.55 L231.73,169.83 L232.48,170.11 L233.24,170.37 L234.00,170.63 L234.76,170.89 L235.52,171.14 L236.28,171.38 L237.05,171.62 L237.81,171.85 L238.58,172.08 L239.35,172.30 L240.12,172.51 L240.90,172.72 L241.67,172.93 L242.45,173.12 L243.23,173.32 L244.01,173.51 L244.79,173.69 L245.57,173.87 L246.35,174.04 L247.13,174.21 L247.92,174.38 L248.70,174.54 L249.49,174.69 L250.27,174.84 L251.06,174.99 L251.85,175.13 L252.64,175.27 L253.43,175.41 L254.22,175.54 L255.01,175.67 L255.80,175.79 L256.59,175.91 L257.39,176.03 L258.18,176.14 L258.97,176.25 L259.77,176.35 L260.56,176.46 L261.36,176.56 L262.15,176.65 L262.95,176.75 L263.74,176.84 L264.54,176.92 L265.34,177.01 L266.13,177.09 L266.93,177.17 L267.73,177.25 L268.53,177.32 L269.32,177.39 L270.12,177.46 L270.92,177.53 L271.72,177.60 L272.52,177.66 L273.31,177.72 L274.11,177.78 L274.91,177.84 L275.71,177.89 L276.51,177.94 L277.31,178.00 L278.11,178.05 L278.91,178.09 L279.71,178.14 L280.51,178.18 L281.31,178.23 L282.11,178.27 L282.91,178.31 L283.71,178.35 L284.51,178.39 L285.31,178.42 L286.11,178.46 L286.91,178.49 L287.72,178.52 L288.52,178.56 L289.32,178.59 L290.12,178.61 L290.92,178.64 L291.72,178.67 L292.52,178.70 L293.32,178.72 L294.12,178.75 L294.92,178.77 L295.72,178.79 L296.52,178.82 L297.32,178.84 L298.12,178.86 L298.92,178.88 L299.72,178.90 L300.52,178.92 L301.32,178.94 L302.12,178.95 L302.92,178.97 L303.72,178.99 L304.52,179.01 L305.32,179.02 L306.12,179.04 L306.92,179.05 L307.72,179.07 L308.52,179.08 L309.32,179.10 L310.12,179.11 L310.92,179.12 L311.72,179.14 L312.52,179.15 L313.32,179.16 L314.12,179.17 L314.92,179.19 L315.73,179.20 L316.53,179.21 L317.33,179.22 L318.13,179.23 L318.93,179.24 L319.73,179.25 L320.53,179.27 L321.33,179.28 L322.13,179.29 L322.93,179.30 L323.73,179.31 L324.53,179.32 L325.33,179.33 L326.13,179.34 L326.93,179.35 L327.73,179.36 L328.53,179.37 L329.33,179.38 L330.13,179.39 L330.93,179.40 L331.73,179.41 L332.53,179.42 L333.33,179.43 L334.13,179.44 L334.93,179.45 L335.73,179.46 L336.53,179.47 L337.33,179.49 L338.13,179.50 L338.93,179.51 L339.73,179.52 L340.53,179.53 L341.33,179.54 L342.13,179.55 L342.94,179.56 L343.74,179.57 L344.54,179.58 L345.34,179.59 L346.14,179.61 L346.94,179.62 L347.74,179.63 L348.54,179.64 L349.34,179.65 L350.14,179.66 L350.94,179.67 L351.74,179.69 L352.54,179.70 L353.34,179.71 L354.14,179.72 L354.94,179.73 L355.74,179.75 L356.54,179.76 L357.34,179.77 L358.14,179.78 L358.94,179.80 L359.74,179.81 L360.54,179.82 L361.34,179.83 L362.14,179.85 L362.94,179.86 L363.74,179.87 L364.54,179.89 L365.34,179.90 L366.14,179.91 L366.94,179.92 L367.74,179.94 L368.54,179.95 L369.34,179.96 L370.14,179.98 L370.95,179.99 L371.75,180.01 L372.55,180.02 L373.35,180.03 L374.15,180.05 L374.95,180.06 L375.75,180.07 L376.55,180.09 L377.35,180.10 L378.15,180.12 L378.95,180.13 L379.75,180.14 L380.55,180.16 L381.35,180.17 L382.15,180.19 L382.95,180.20 L383.75,180.22 L384.55,180.23 L385.35,180.24 L386.15,180.26 L386.95,180.27 L387.75,180.29 L388.55,180.30 L389.35,180.32 L390.15,180.33 L390.95,180.34 L391.75,180.36 L392.55,180.37 L393.35,180.39 L394.15,180.40 L394.95,180.42 L395.75,180.43 L396.55,180.45 L397.35,180.46 L398.15,180.47 L398.96,180.49 L399.76,180.50 L400.56,180.52 L401.36,180.53 L402.16,180.55 L402.96,180.56 L403.76,180.57 L404.56,180.59 L405.36,180.60 L406.16,180.62 L406.96,180.63 L407.76,180.64 L408.56,180.66 L409.36,180.67 L410.16,180.69 L410.96,180.70 L411.76,180.71 L412.56,180.73 L413.36,180.74 L414.16,180.76 L414.96,180.77 L415.76,180.78 L416.56,180.80 L417.36,180.81 L418.16,180.82 L418.96,180.84 L419.76,180.85 L420.56,180.86 L421.36,180.88 L422.16,180.89 L422.96,180.90 L423.76,180.92 L424.56,180.93 L425.36,180.94 L426.17,180.96 L426.97,180.97 L427.77,180.98 L428.57,181.00 L429.37,181.01 L430.17,181.02 L430.97,181.03 L431.77,181.05 L432.57,181.06 L433.37,181.07 L434.17,181.08 L434.97,181.10 L435.77,181.11 L436.57,181.12 L437.37,181.13 L438.17,181.15 L438.97,181.16 L439.77,181.17 L440.57,181.18 L441.37,181.19 L442.17,181.21 L442.97,181.22 L443.77,181.23 L444.57,181.24 L445.37,181.25 L446.17,181.26 L446.97,181.28 L447.77,181.29 L448.57,181.30 L449.37,181.31 L450.17,181.32 L450.97,181.33 L451.77,181.34 L452.57,181.36 L453.37,181.37 L454.18,181.38 L454.98,181.39 L455.78,181.40 L456.58,181.41 L457.38,181.42 L458.18,181.43 L458.98,181.44 L459.78,181.45 L460.58,181.47 L461.38,181.48 L462.18,181.49 L462.98,181.50 L463.78,181.51 L464.58,181.52 L465.38,181.53 L466.18,181.54 L466.98,181.55 L467.78,181.56 L468.58,181.57 L469.38,181.58 L470.18,181.59 L470.98,181.60 L471.78,181.62 L472.58,181.63 L473.38,181.64 L474.18,181.65 L474.98,181.66 L475.78,181.67 L476.58,181.68 L477.38,181.69 L478.18,181.70 L478.98,181.71 L479.78,181.72 L480.58,181.73 L481.39,181.74 L482.19,181.75 L482.99,181.76 L483.79,181.77 L484.59,181.78 L485.39,181.79 L486.19,181.81 L486.99,181.82 L487.79,181.83 L488.59,181.84 L489.39,181.85 L490.19,181.86 L490.99,181.87 L491.79,181.88 L492.59,181.89 L493.39,181.90 L494.19,181.91 L494.99,181.93 L495.79,181.94 L496.59,181.95 L497.39,181.96 L498.19,181.97 L498.99,181.98 L499.79,181.99 L500.59,182.01 L501.39,182.02 L502.19,182.03 L502.99,182.04 L503.79,182.05 L504.59,182.07 L505.39,182.08 L506.19,182.09 L506.99,182.10 L507.79,182.11 L508.59,182.13 L509.40,182.14 L510.20,182.15 L511.00,182.17 L511.80,182.18 L512.60,182.19 L513.40,182.20 L514.20,182.22 L515.00,182.23 L515.80,182.24 L516.60,182.26 L517.40,182.27 L518.20,182.29 L519.00,182.30 L519.80,182.31 L520.60,182.33 L521.40,182.34 L522.20,182.36 L523.00,182.37 L523.80,182.39 L524.60,182.40 L525.40,182.42 L526.20,182.43 L527.00,182.45 L527.80,182.47 L528.60,182.48 L529.40,182.50 L530.20,182.51 L531.00,182.53 L531.80,182.55 L532.60,182.56 L533.40,182.58 L534.20,182.60 L535.00,182.62 L535.80,182.63 L536.60,182.65 L537.41,182.67 L538.21,182.69 L539.01,182.71 L539.81,182.73 L540.61,182.74 L541.41,182.76 L542.21,182.78 L543.01,182.80 L543.81,182.82 L544.61,182.84 L545.41,182.86 L546.21,182.88 L547.01,182.90 L547.81,182.93 L548.61,182.95 L549.41,182.97 L550.21,182.99 L551.01,183.01 L551.81,183.04 L552.61,183.06 L553.41,183.08 L554.21,183.10 L555.01,183.13 L555.81,183.15 L556.61,183.17 L557.41,183.20 L558.21,183.22 L559.01,183.25 L559.81,183.27 L560.61,183.30 L561.41,183.33 L562.21,183.35 L563.01,183.38 L563.81,183.40 L564.62,183.43 L565.42,183.46 L566.22,183.49 L567.02,183.51 L567.82,183.54 L568.62,183.57 L569.42,183.60 L570.22,183.63 L571.02,183.66 L571.82,183.69 L572.62,183.72 L573.42,183.75 L574.22,183.78 L575.02,183.81 L575.82,183.84 L576.62,183.87 L577.42,183.91 L578.22,183.94 L579.02,183.97 L579.82,184.01 L580.62,184.04 L581.42,184.07 L582.22,184.11 L583.02,184.14 L583.82,184.18 L584.62,184.21 L585.42,184.25 L586.22,184.29 L587.02,184.32 L587.82,184.36 L588.62,184.40 L589.42,184.44 L590.22,184.47 L591.02,184.51 L591.82,184.55 L592.63,184.59 L593.43,184.63 L594.23,184.67 L595.03,184.71 L595.83,184.75 L596.63,184.79 L597.00,184.81" stroke="#ff0000" stroke-width="1.85" fill="none" stroke-linejoin="round" stroke-linecap="butt"/>
<path d="M205.89,17.00 L206.12,17.78 L206.34,18.55 L206.56,19.32 L206.78,20.09 L207.01,20.86 L207.23,21.63 L207.46,22.40 L207.69,23.18 L207.92,23.94 L208.16,24.71 L208.39,25.48 L208.63,26.25 L208.86,27.02 L209.10,27.78 L209.34,28.55 L209.59,29.32 L209.83,30.08 L210.07,30.85 L210.32,31.61 L210.57,32.37 L210.82,33.14 L211.07,33.90 L211.32,34.66 L211.58,35.42 L211.83,36.19 L212.09,36.95 L212.35,37.71 L212.61,38.47 L212.88,39.23 L213.14,39.99 L213.41,40.74 L213.67,41.50 L213.94,42.25 L214.22,43.01 L214.49,43.76 L214.77,44.52 L215.04,45.27 L215.32,46.03 L215.60,46.78 L215.89,47.53 L216.17,48.29 L216.46,49.04 L216.75,49.79 L217.04,50.54 L217.34,51.29 L217.63,52.04 L217.93,52.79 L218.23,53.53 L218.53,54.28 L218.83,55.03 L219.14,55.77 L219.45,56.51 L219.76,57.25 L220.07,58.00 L220.38,58.74 L220.70,59.47 L221.01,60.21 L221.33,60.95 L221.65,61.68 L221.98,62.41 L222.30,63.14 L222.63,63.88 L222.96,64.61 L223.30,65.34 L223.63,66.07 L223.97,66.80 L224.31,67.53 L224.65,68.25 L224.99,68.97 L225.34,69.70 L225.69,70.42 L226.04,71.14 L226.39,71.86 L226.74,72.58 L227.10,73.30 L227.46,74.02 L227.83,74.73 L228.19,75.45 L228.56,76.16 L228.93,76.87 L229.30,77.58 L229.67,78.29 L230.05,79.00 L230.43,79.71 L230.81,80.41 L231.20,81.11 L231.59,81.82 L231.98,82.52 L232.37,83.22 L232.76,83.92 L233.16,84.61 L233.56,85.31 L233.96,86.00 L234.37,86.69 L234.78,87.39 L235.19,88.07 L235.60,88.76 L236.01,89.45 L236.43,90.13 L236.85,90.81 L237.28,91.50 L237.70,92.17 L238.13,92.85 L238.56,93.53 L239.00,94.20 L239.44,94.87 L239.87,95.54 L240.32,96.21 L240.76,96.88 L241.21,97.54 L241.66,98.21 L242.12,98.87 L242.57,99.53 L243.03,100.18 L243.49,100.84 L243.96,101.49 L244.42,102.14 L244.90,102.79 L245.37,103.44 L245.85,104.08 L246.32,104.72 L246.81,105.37 L247.29,106.00 L247.78,106.64 L248.27,107.28 L248.76,107.91 L249.26,108.54 L249.76,109.16 L250.26,109.79 L250.77,110.41 L251.27,111.03 L251.78,111.65 L252.30,112.26 L252.81,112.87 L253.33,113.48 L253.86,114.09 L254.38,114.70 L254.91,115.30 L255.44,115.90 L255.98,116.49 L256.52,117.09 L257.06,117.68 L257.60,118.27 L258.14,118.85 L258.69,119.44 L259.25,120.02 L259.80,120.59 L260.36,121.17 L260.92,121.74 L261.49,122.31 L262.05,122.88 L262.63,123.44 L263.20,124.00 L263.78,124.56 L264.36,125.11 L264.94,125.66 L265.52,126.21 L266.11,126.75 L266.70,127.29 L267.30,127.83 L267.90,128.36 L268.50,128.90 L269.10,129.42 L269.71,129.95 L270.32,130.47 L270.93,130.98 L271.54,131.50 L272.16,132.01 L272.78,132.51 L273.41,133.02 L274.03,133.52 L274.66,134.01 L275.30,134.50 L275.93,134.99 L276.57,135.48 L277.21,135.96 L277.85,136.44 L278.50,136.91 L279.15,137.38 L279.80,137.84 L280.45,138.31 L281.11,138.76 L281.77,139.22 L282.43,139.67 L283.10,140.11 L283.77,140.56 L284.44,141.00 L285.11,141.43 L285.79,141.86 L286.47,142.29 L287.15,142.71 L287.83,143.13 L288.52,143.54 L289.20,143.95 L289.89,144.36 L290.59,144.76 L291.28,145.16 L291.98,145.55 L292.68,145.94 L293.38,146.33 L294.08,146.71 L294.79,147.09 L295.50,147.46 L296.21,147.83 L296.93,148.20 L297.64,148.56 L298.36,148.92 L299.08,149.27 L299.80,149.62 L300.52,149.97 L301.25,150.31 L301.97,150.64 L302.70,150.98 L303.43,151.31 L304.17,151.63 L304.90,151.95 L305.63,152.27 L306.37,152.59 L307.11,152.90 L307.85,153.20 L308.59,153.50 L309.34,153.80 L310.08,154.10 L310.83,154.39 L311.58,154.67 L312.33,154.96 L313.08,155.24 L313.83,155.51 L314.58,155.78 L315.34,156.05 L316.09,156.32 L316.85,156.58 L317.61,156.84 L318.37,157.09 L319.13,157.34 L319.89,157.59 L320.65,157.83 L321.42,158.08 L322.18,158.31 L322.95,158.55 L323.72,158.78 L324.48,159.01 L325.25,159.23 L326.02,159.45 L326.79,159.67 L327.57,159.89 L328.34,160.10 L329.11,160.31 L329.88,160.52 L330.66,160.72 L331.44,160.92 L332.21,161.12 L332.99,161.31 L333.77,161.51 L334.54,161.70 L335.32,161.88 L336.10,162.07 L336.88,162.25 L337.66,162.43 L338.44,162.61 L339.23,162.78 L340.01,162.95 L340.79,163.12 L341.58,163.29 L342.36,163.45 L343.14,163.62 L343.93,163.78 L344.71,163.94 L345.50,164.09 L346.28,164.25 L347.07,164.40 L347.86,164.55 L348.65,164.70 L349.43,164.84 L350.22,164.99 L351.01,165.13 L351.80,165.27 L352.59,165.41 L353.38,165.54 L354.17,165.68 L354.96,165.81 L355.75,165.94 L356.54,166.07 L357.33,166.20 L358.12,166.33 L358.91,166.45 L359.70,166.57 L360.49,166.70 L361.29,166.82 L362.08,166.93 L362.87,167.05 L363.66,167.17 L364.45,167.28 L365.25,167.39 L366.04,167.51 L366.83,167.62 L367.63,167.73 L368.42,167.83 L369.22,167.94 L370.01,168.05 L370.80,168.15 L371.60,168.26 L372.39,168.36 L373.19,168.46 L373.98,168.56 L374.78,168.66 L375.57,168.76 L376.37,168.85 L377.16,168.95 L377.96,169.04 L378.75,169.14 L379.55,169.23 L380.35,169.32 L381.14,169.42 L381.94,169.51 L382.73,169.60 L383.53,169.68 L384.33,169.77 L385.12,169.86 L385.92,169.95 L386.71,170.03 L387.51,170.12 L388.31,170.20 L389.10,170.29 L389.90,170.37 L390.69,170.45 L391.49,170.53 L392.29,170.61 L393.08,170.69 L393.88,170.77 L394.68,170.85 L395.47,170.93 L396.27,171.01 L397.07,171.09 L397.87,171.17 L398.67,171.24 L399.47,171.32 L400.26,171.39 L401.06,171.47 L401.86,171.54 L402.66,171.62 L403.46,171.69 L404.25,171.76 L405.05,171.84 L405.85,171.91 L406.65,171.98 L407.45,172.05 L408.24,172.12 L409.04,172.20 L409.84,172.27 L410.64,172.34 L411.44,172.41 L412.23,172.47 L413.03,172.54 L413.83,172.61 L414.63,172.68 L415.43,172.75 L416.22,172.82 L417.02,172.88 L417.82,172.95 L418.62,173.02 L419.42,173.08 L420.21,173.15 L421.01,173.22 L421.81,173.28 L422.61,173.35 L423.41,173.41 L424.20,173.48 L425.00,173.54 L425.80,173.61 L426.60,173.67 L427.40,173.73 L428.19,173.80 L428.99,173.86 L429.79,173.92 L430.59,173.99 L431.39,174.05 L432.18,174.11 L432.98,174.17 L433.78,174.24 L434.58,174.30 L435.38,174.36 L436.17,174.42 L436.97,174.48 L437.77,174.54 L438.57,174.60 L439.37,174.67 L440.16,174.73 L440.96,174.79 L441.76,174.85 L442.56,174.91 L443.36,174.97 L444.15,175.03 L444.95,175.09 L445.75,175.15 L446.55,175.20 L447.35,175.26 L448.14,175.32 L448.94,175.38 L449.74,175.44 L450.54,175.50 L451.34,175.56 L452.13,175.61 L452.93,175.67 L453.73,175.73 L454.53,175.79 L455.33,175.85 L456.13,175.90 L456.92,175.96 L457.72,176.02 L458.52,176.07 L459.32,176.13 L460.12,176.19 L460.91,176.24 L461.71,176.30 L462.51,176.36 L463.31,176.41 L464.11,176.47 L464.91,176.52 L465.71,176.58 L466.51,176.64 L467.31,176.69 L468.11,176.75 L468.91,176.80 L469.71,176.86 L470.51,176.91 L471.31,176.97 L472.11,177.02 L472.91,177.08 L473.71,177.13 L474.51,177.18 L475.31,177.24 L476.11,177.29 L476.91,177.35 L477.71,177.40 L478.51,177.45 L479.31,177.51 L480.11,177.56 L480.91,177.61 L481.71,177.67 L482.51,177.72 L483.31,177.77 L484.11,177.82 L484.91,177.88 L485.71,177.93 L486.51,177.98 L487.31,178.03 L488.11,178.08 L488.91,178.14 L489.71,178.19 L490.51,178.24 L491.31,178.29 L492.11,178.34 L492.91,178.39 L493.71,178.44 L494.51,178.49 L495.31,178.54 L496.11,178.59 L496.91,178.64 L497.71,178.69 L498.51,178.74 L499.31,178.79 L500.11,178.84 L500.91,178.89 L501.71,178.94 L502.51,178.99 L503.31,179.04 L504.11,179.09 L504.91,179.13 L505.71,179.18 L506.51,179.23 L507.31,179.28 L508.11,179.33 L508.91,179.37 L509.71,179.42 L510.51,179.47 L511.31,179.52 L512.11,179.56 L512.91,179.61 L513.71,179.66 L514.51,179.70 L515.31,179.75 L516.11,179.80 L516.91,179.84 L517.71,179.89 L518.51,179.93 L519.31,179.98 L520.11,180.02 L520.91,180.07 L521.71,180.11 L522.51,180.16 L523.31,180.20 L524.11,180.25 L524.91,180.29 L525.71,180.34 L526.51,180.38 L527.31,180.42 L528.11,180.47 L528.91,180.51 L529.71,180.55 L530.51,180.60 L531.31,180.64 L532.11,180.68 L532.91,180.73 L533.71,180.77 L534.51,180.81 L535.31,180.85 L536.11,180.89 L536.91,180.94 L537.71,180.98 L538.51,181.02 L539.31,181.06 L540.11,181.10 L540.91,181.14 L541.71,181.18 L542.51,181.22 L543.31,181.26 L544.11,181.30 L544.91,181.34 L545.71,181.38 L546.51,181.42 L547.31,181.46 L548.11,181.50 L548.91,181.54 L549.71,181.58 L550.51,181.62 L551.31,181.65 L552.11,181.69 L552.91,181.73 L553.71,181.77 L554.51,181.81 L555.31,181.84 L556.11,181.88 L556.91,181.92 L557.71,181.95 L558.51,181.99 L559.31,182.03 L560.11,182.06 L560.91,182.10 L561.71,182.14 L562.51,182.17 L563.31,182.21 L564.11,182.24 L564.91,182.28 L565.71,182.31 L566.51,182.35 L567.31,182.38 L568.11,182.42 L568.91,182.45 L569.71,182.49 L570.51,182.52 L571.31,182.55 L572.11,182.59 L572.91,182.62 L573.71,182.66 L574.51,182.69 L575.31,182.72 L576.11,182.75 L576.91,182.79 L577.71,182.82 L578.51,182.85 L579.31,182.88 L580.11,182.92 L580.91,182.95 L581.71,182.98 L582.51,183.01 L583.31,183.04 L584.11,183.07 L584.91,183.11 L585.71,183.14 L586.51,183.17 L587.31,183.20 L588.11,183.23 L588.91,183.26 L589.71,183.29 L590.51,183.32 L591.31,183.35 L592.11,183.38 L592.91,183.41 L593.71,183.44 L594.51,183.46 L595.31,183.49 L596.11,183.52 L596.91,183.55 L597.00,183.55" stroke="#ff00ff" stroke-width="1.85" fill="none" stroke-linejoin="round" stroke-linecap="butt"/>
</g>
<g stroke="#848484" stroke-width="1" fill="none">
<rect x="43.5" y="0.5" width="564.0" height="348.5" stroke-width="1"/>
<line x1="54.57" y1="349.0" x2="54.57" y2="346.3"/>
<line x1="54.57" y1="0.5" x2="54.57" y2="3.2"/>
<line x1="86.43" y1="349.0" x2="86.43" y2="346.3"/>
<line x1="86.43" y1="0.5" x2="86.43" y2="3.2"/>
<line x1="118.30" y1="349.0" x2="118.30" y2="344.7"/>
<line x1="118.30" y1="0.5" x2="118.30" y2="4.8"/>
<line x1="150.17" y1="349.0" x2="150.17" y2="346.3"/>
<line x1="150.17" y1="0.5" x2="150.17" y2="3.2"/>
<line x1="182.03" y1="349.0" x2="182.03" y2="346.3"/>
<line x1="182.03" y1="0.5" x2="182.03" y2="3.2"/>
<line x1="213.90" y1="349.0" x2="213.90" y2="346.3"/>
<line x1="213.90" y1="0.5" x2="213.90" y2="3.2"/>
<line x1="245.77" y1="349.0" x2="245.77" y2="346.3"/>
<line x1="245.77" y1="0.5" x2="245.77" y2="3.2"/>
<line x1="277.63" y1="349.0" x2="277.63" y2="344.7"/>
<line x1="277.63" y1="0.5" x2="277.63" y2="4.8"/>
<line x1="309.50" y1="349.0" x2="309.50" y2="346.3"/>
<line x1="309.50" y1="0.5" x2="309.50" y2="3.2"/>
<line x1="341.37" y1="349.0" x2="341.37" y2="346.3"/>
<line x1="341.37" y1="0.5" x2="341.37" y2="3.2"/>
<line x1="373.24" y1="349.0" x2="373.24" y2="346.3"/>
<line x1="373.24" y1="0.5" x2="373.24" y2="3.2"/>
<line x1="405.10" y1="349.0" x2="405.10" y2="346.3"/>
<line x1="405.10" y1="0.5" x2="405.10" y2="3.2"/>
<line x1="436.97" y1="349.0" x2="436.97" y2="344.7"/>
<line x1="436.97" y1="0.5" x2="436.97" y2="4.8"/>
<line x1="468.84" y1="349.0" x2="468.84" y2="346.3"/>
<line x1="468.84" y1="0.5" x2="468.84" y2="3.2"/>
<line x1="500.70" y1="349.0" x2="500.70" y2="346.3"/>
<line x1="500.70" y1="0.5" x2="500.70" y2="3.2"/>
<line x1="532.57" y1="349.0" x2="532.57" y2="346.3"/>
<line x1="532.57" y1="0.5" x2="532.57" y2="3.2"/>
<line x1="564.44" y1="349.0" x2="564.44" y2="346.3"/>
<line x1="564.44" y1="0.5" x2="564.44" y2="3.2"/>
<line x1="596.30" y1="349.0" x2="596.30" y2="344.7"/>
<line x1="596.30" y1="0.5" x2="596.30" y2="4.8"/>
<line x1="43.5" y1="338.18" x2="46.2" y2="338.18"/>
<line x1="607.5" y1="338.18" x2="604.8" y2="338.18"/>
<line x1="43.5" y1="321.80" x2="46.2" y2="321.80"/>
<line x1="607.5" y1="321.80" x2="604.8" y2="321.80"/>
<line x1="43.5" y1="305.42" x2="47.8" y2="305.42"/>
<line x1="607.5" y1="305.42" x2="603.2" y2="305.42"/>
<line x1="43.5" y1="289.04" x2="46.2" y2="289.04"/>
<line x1="607.5" y1="289.04" x2="604.8" y2="289.04"/>
<line x1="43.5" y1="272.66" x2="46.2" y2="272.66"/>
<line x1="607.5" y1="272.66" x2="604.8" y2="272.66"/>
<line x1="43.5" y1="256.28" x2="46.2" y2="256.28"/>
<line x1="607.5" y1="256.28" x2="604.8" y2="256.28"/>
<line x1="43.5" y1="239.90" x2="47.8" y2="239.90"/>
<line x1="607.5" y1="239.90" x2="603.2" y2="239.90"/>
<line x1="43.5" y1="223.52" x2="46.2" y2="223.52"/>
<line x1="607.5" y1="223.52" x2="604.8" y2="223.52"/>
<line x1="43.5" y1="207.14" x2="46.2" y2="207.14"/>
<line x1="607.5" y1="207.14" x2="604.8" y2="207.14"/>
<line x1="43.5" y1="190.76" x2="46.2" y2="190.76"/>
<line x1="607.5" y1="190.76" x2="604.8" y2="190.76"/>
<line x1="43.5" y1="174.38" x2="47.8" y2="174.38"/>
<line x1="607.5" y1="174.38" x2="603.2" y2="174.38"/>
<line x1="43.5" y1="158.00" x2="46.2" y2="158.00"/>
<line x1="607.5" y1="158.00" x2="604.8" y2="158.00"/>
<line x1="43.5" y1="141.62" x2="46.2" y2="141.62"/>
<line x1="607.5" y1="141.62" x2="604.8" y2="141.62"/>
<line x1="43.5" y1="125.24" x2="46.2" y2="125.24"/>
<line x1="607.5" y1="125.24" x2="604.8" y2="125.24"/>
<line x1="43.5" y1="108.86" x2="47.8" y2="108.86"/>
<line x1="607.5" y1="108.86" x2="603.2" y2="108.86"/>
<line x1="43.5" y1="92.48" x2="46.2" y2="92.48"/>
<line x1="607.5" y1="92.48" x2="604.8" y2="92.48"/>
<line x1="43.5" y1="76.10" x2="46.2" y2="76.10"/>
<line x1="607.5" y1="76.10" x2="604.8" y2="76.10"/>
<line x1="43.5" y1="59.72" x2="46.2" y2="59.72"/>
<line x1="607.5" y1="59.72" x2="604.8" y2="59.72"/>
<line x1="43.5" y1="43.34" x2="47.8" y2="43.34"/>
<line x1="607.5" y1="43.34" x2="603.2" y2="43.34"/>
<line x1="43.5" y1="26.96" x2="46.2" y2="26.96"/>
<line x1="607.5" y1="26.96" x2="604.8" y2="26.96"/>
<line x1="43.5" y1="10.58" x2="46.2" y2="10.58"/>
<line x1="607.5" y1="10.58" x2="604.8" y2="10.58"/>
</g>
<g>
<text x="118.30" y="361.75" text-anchor="middle">0.5</text>
<text x="277.63" y="361.75" text-anchor="middle">1.0</text>
<text x="436.97" y="361.75" text-anchor="middle">1.5</text>
<text x="596.30" y="361.75" text-anchor="middle">2.0</text>
<rect x="20.3" y="305.72" width="4.5" height="1.2" fill="#000"/>
<text x="40.5" y="309.27" text-anchor="end">0.2</text>
<text x="40.5" y="243.75" text-anchor="end">0.0</text>
<text x="40.5" y="178.23" text-anchor="end">0.2</text>
<text x="40.5" y="112.71" text-anchor="end">0.4</text>
<text x="40.5" y="47.19" text-anchor="end">0.6</text>
</g>
<g>
<line x1="408.4" y1="232.5" x2="429.2" y2="232.5" stroke="#00ff00" stroke-width="1.85"/>
<text x="435.3" y="236.90" font-size="12" letter-spacing="0.26">g=0.2</text>
<line x1="408.4" y1="255.25" x2="429.2" y2="255.25" stroke="#800080" stroke-width="1.85"/>
<text x="435.3" y="259.65" font-size="12" letter-spacing="0.26">g=0.4</text>
<line x1="408.4" y1="278.05" x2="429.2" y2="278.05" stroke="#0000ff" stroke-width="1.85"/>
<text x="435.3" y="282.45" font-size="12" letter-spacing="0.26">g=0.6</text>
<line x1="408.4" y1="300.9" x2="429.2" y2="300.9" stroke="#ff0000" stroke-width="1.85"/>
<text x="435.3" y="305.30" font-size="12" letter-spacing="0.26">g=0.8</text>
<line x1="408.4" y1="323.6" x2="429.2" y2="323.6" stroke="#ff00ff" stroke-width="1.85"/>
<text x="435.3" y="328.00" font-size="12" letter-spacing="0.26">g=1.0</text>
</g>
<text x="325.8" y="379.8" text-anchor="middle" font-size="11">r</text>
<g fill="none" stroke="#000" stroke-linecap="round" stroke-linejoin="round"><path d="M3.3,172.5 L9.2,176.6" stroke-width="1.6"/><path d="M9.2,176.6 L3.2,177.6" stroke-width="1.2"/><path d="M3.2,177.6 Q2.9,179.6 4.2,180.6 Q5.2,181.4 6.4,181.3" stroke-width="1.3"/></g>
<text transform="translate(12.9,173.2) rotate(-90)" x="0" y="0" font-size="10">0</text>
</svg>
</body></html>
